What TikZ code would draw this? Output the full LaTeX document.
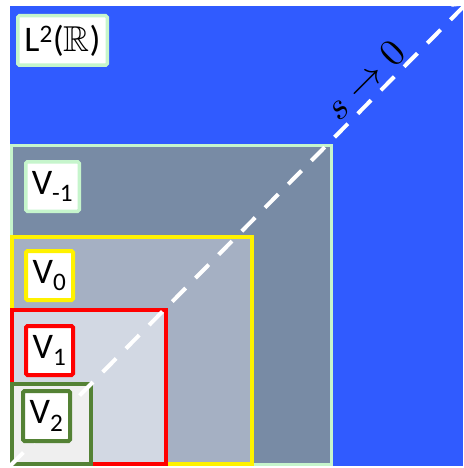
\documentclass[tikz,border=0pt]{standalone}
\usepackage{amsmath,amssymb}
\usepackage{fontspec}
\newfontfamily\calib{Carlito}
\usetikzlibrary{arrows.meta}

\definecolor{planeblue}{RGB}{48,91,255}
\definecolor{slate}{RGB}{120,139,165}
\definecolor{haze}{RGB}{165,176,195}
\definecolor{mist}{RGB}{210,216,227}
\definecolor{paper}{RGB}{239,239,239}
\definecolor{mint}{RGB}{198,245,204}
\definecolor{leaf}{RGB}{84,130,53}

\begin{document}
\begin{tikzpicture}[x=1pt,y=-1pt,
  every node/.style={font=\calib\fontsize{36}{40}\selectfont},
  tag/.style={draw,fill=white,rounded corners=1.5pt,inner sep=0pt}]
  \useasboundingbox (0,0) rectangle (463,468);
  \fill[planeblue] (10,6) rectangle (463,466);
  % nested spaces
  \draw[line width=3pt,draw=mint,fill=slate] (11.5,145.5) rectangle (331.5,464.5);
  \draw[line width=4pt,draw=yellow,fill=haze] (12,237) rectangle (252,464);
  \draw[line width=4pt,draw=red,fill=mist] (12,310) rectangle (166,464);
  \draw[line width=4pt,draw=leaf,fill=paper] (12,384) rectangle (91,464);
  % scale arrow
  \coordinate (origin) at (10,466);
  \coordinate (far) at (469,1);
  \draw[white,line width=4pt,dash pattern=on 19pt off 14pt,
    -{Straight Barb[length=12pt,width=20pt]}] (origin) -- (far);
  \node[rotate=45,font=\normalsize,scale=3.8] (limit) at (365,80) {$s \to 0$};
  % labels
  \node[tag,draw=mint,line width=3.5pt,minimum width=89.5pt,minimum height=49.5pt]
    (ltwo) at (62.5,40.5) {L$^{\text{2}}$($\mathbb{R}$)};
  \node[tag,draw=mint,line width=3.5pt,minimum width=53.5pt,minimum height=49.5pt]
    (vm1) at (52.5,186.5) {V$_{\text{-1}}$};
  \node[tag,draw=yellow,line width=4pt,minimum width=47pt,minimum height=49pt]
    (v0) at (49.5,275.5) {V$_{\text{0}}$};
  \node[tag,draw=red,line width=4pt,minimum width=47pt,minimum height=49pt]
    (v1) at (49.5,350.5) {V$_{\text{1}}$};
  \node[tag,draw=leaf,line width=4pt,minimum width=47pt,minimum height=50pt]
    (v2) at (46.5,416) {V$_{\text{2}}$};
\end{tikzpicture}
\end{document}
